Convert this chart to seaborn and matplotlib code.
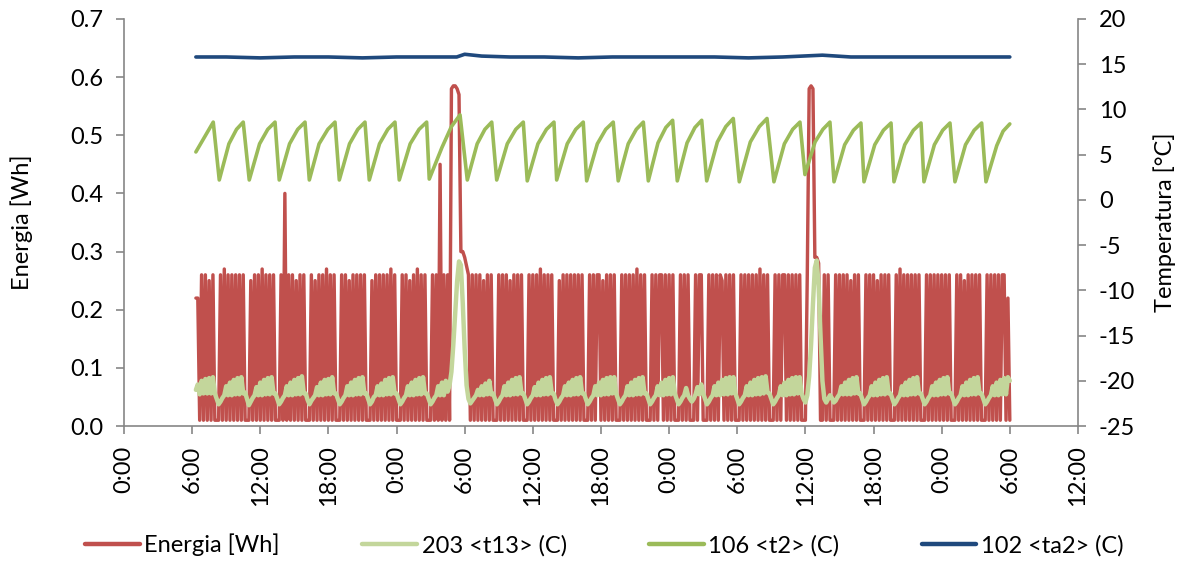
import numpy as np
import pandas as pd
import matplotlib
matplotlib.use("Agg")
import matplotlib.pyplot as plt
import seaborn as sns
from matplotlib.ticker import MultipleLocator, FuncFormatter
from matplotlib.lines import Line2D

sns.set_theme(style="white")
plt.rcParams['font.family'] = ['Lato', 'DejaVu Sans']
plt.rcParams['lines.solid_joinstyle'] = 'round'
plt.rcParams['lines.solid_capstyle'] = 'round'
plt.rcParams['text.color'] = 'black'

# --- datos: energia y t13 muestreados cada 10 min, un bloque por dia ---
PASO_H = 1 / 6
inicio_dias = [6 + 20 / 60, 24, 48, 72]   # hora de la primera muestra de cada bloque

energia_dia1 = [
    0.22, 0.22, 0.01, 0.26, 0.01, 0.26, 0.01, 0.25, 0.01, 0.26, 0.01, 0.01,
    0.01, 0.26, 0.01, 0.27, 0.01, 0.26, 0.01, 0.26, 0.01, 0.26, 0.01, 0.26, 0.01, 0.26, 0.01, 0.01,
    0.01, 0.25, 0.01, 0.26, 0.01, 0.26, 0.01, 0.27, 0.01, 0.26, 0.01, 0.26, 0.01, 0.26, 0.01, 0.01,
    0.01, 0.26, 0.01, 0.40, 0.01, 0.26, 0.01, 0.26, 0.01, 0.25, 0.01, 0.26, 0.01, 0.26, 0.01, 0.01,
    0.01, 0.26, 0.01, 0.25, 0.01, 0.26, 0.01, 0.26, 0.01, 0.27, 0.01, 0.26, 0.01, 0.26, 0.01, 0.01,
    0.01, 0.26, 0.01, 0.26, 0.01, 0.25, 0.01, 0.26, 0.01, 0.26, 0.01, 0.26, 0.01, 0.26, 0.01, 0.01,
    0.01, 0.25, 0.01, 0.26, 0.01, 0.26, 0.01, 0.26, 0.01, 0.26, 0.01, 0.27, 0.01, 0.26,
]
energia_dia2 = [
    0.01, 0.01, 0.01, 0.26, 0.01, 0.26, 0.01, 0.25, 0.01, 0.26, 0.01, 0.27, 0.01, 0.26, 0.01, 0.26, 0.01, 0.01,
    0.01, 0.26, 0.01, 0.26, 0.01, 0.45, 0.01, 0.26, 0.01, 0.26, 0.01, 0.58, 0.585, 0.585, 0.58, 0.57,
    0.30, 0.30, 0.29, 0.275, 0.26, 0.01,
    0.26, 0.01, 0.26, 0.01, 0.26, 0.01, 0.25, 0.01, 0.26, 0.01, 0.26, 0.01, 0.01,
    0.01, 0.26, 0.01, 0.26, 0.01, 0.26, 0.01, 0.25, 0.01, 0.26, 0.01, 0.26, 0.01, 0.26, 0.01, 0.01,
    0.01, 0.26, 0.01, 0.26, 0.01, 0.26, 0.01, 0.27, 0.01, 0.26, 0.01, 0.26, 0.01, 0.26, 0.01, 0.01,
    0.01, 0.25, 0.01, 0.26, 0.01, 0.26, 0.01, 0.26, 0.01, 0.26, 0.01, 0.26, 0.01, 0.26, 0.01, 0.01,
    0.01, 0.26, 0.01, 0.26, 0.01, 0.26, 0.26, 0.01, 0.25, 0.01, 0.26, 0.01, 0.26, 0.01, 0.26, 0.01, 0.01,
    0.01, 0.26, 0.01, 0.26, 0.01, 0.26, 0.01, 0.26, 0.01, 0.27, 0.01, 0.26, 0.01, 0.26, 0.01, 0.01,
    0.01, 0.26, 0.01, 0.26, 0.01, 0.26, 0.26, 0.01, 0.26, 0.01,
]
energia_dia3 = [
    0.26, 0.01, 0.26, 0.01, 0.01,
    0.01, 0.26, 0.01, 0.26, 0.01, 0.26, 0.01, 0.01, 0.01,
    0.26, 0.01, 0.26, 0.26, 0.01, 0.01,
    0.01, 0.26, 0.01, 0.26, 0.01, 0.26, 0.01, 0.26, 0.25, 0.01, 0.26, 0.01, 0.26, 0.01, 0.26, 0.01, 0.01,
    0.01, 0.26, 0.01, 0.26, 0.01, 0.26, 0.01, 0.26, 0.01, 0.26, 0.01, 0.27, 0.01, 0.26, 0.01, 0.26, 0.01, 0.01,
    0.01, 0.26, 0.01, 0.26, 0.01, 0.26, 0.26, 0.01, 0.26, 0.01, 0.26, 0.01, 0.26, 0.01, 0.26, 0.01, 0.01,
    0.01, 0.26, 0.58, 0.585, 0.58, 0.29, 0.29, 0.28, 0.01, 0.01, 0.26, 0.01, 0.26, 0.01, 0.01,
    0.01, 0.26, 0.01, 0.26, 0.01, 0.26, 0.01, 0.26, 0.01, 0.25, 0.01, 0.26, 0.01, 0.26, 0.01, 0.01,
    0.01, 0.26, 0.01, 0.26, 0.01, 0.26, 0.01, 0.25, 0.01, 0.26, 0.01, 0.26, 0.01, 0.26, 0.01, 0.01,
    0.01, 0.26, 0.01, 0.27, 0.01, 0.26, 0.01, 0.26, 0.01, 0.26, 0.01, 0.26, 0.01, 0.26, 0.01, 0.01,
    0.01, 0.26, 0.01, 0.26, 0.01, 0.26, 0.01, 0.26, 0.01,
]
energia_dia4 = [
    0.26, 0.01, 0.26, 0.01, 0.26, 0.01, 0.01,
    0.01, 0.26, 0.01, 0.26, 0.01, 0.25, 0.01, 0.26, 0.01, 0.26, 0.01, 0.26, 0.01, 0.26, 0.01, 0.01,
    0.01, 0.26, 0.01, 0.26, 0.01, 0.26, 0.01, 0.26, 0.01, 0.26, 0.26, 0.01, 0.22, 0.01,
]

t13_dia1 = [
    -21.0, -20.4, -21.5, -20.0, -21.4, -19.8, -21.4, -19.7, -21.4, -19.6,
    -21.4, -22.0, -22.6, -22.3, -21.9, -21.6, -20.6, -21.6, -20.2, -21.6, -19.9, -21.5, -19.7, -21.5, -19.6, -21.4,
    -21.3, -22.0, -22.7, -22.3, -21.9, -21.6, -20.7, -21.6, -20.2, -21.6, -19.9, -21.5, -19.7, -21.5, -19.6, -21.4,
    -21.4, -22.0, -22.6, -22.3, -21.9, -21.6, -20.6, -21.6, -20.2, -21.6, -19.9, -21.5, -19.7, -21.5, -19.5, -21.4,
    -21.4, -22.1, -22.6, -22.2, -21.9, -21.6, -20.7, -21.6, -20.2, -21.6, -19.9, -21.5, -19.8, -21.5, -19.6, -21.4,
    -21.4, -22.0, -22.6, -22.3, -21.9, -21.6, -20.6, -21.6, -20.2, -21.6, -19.9, -21.5, -19.7, -21.5, -19.6, -21.4,
    -21.4, -22.0, -22.6, -22.3, -21.8, -21.6, -20.6, -21.6, -20.3, -21.6, -19.9, -21.5, -19.7, -21.5, -19.6, -21.4,
]
t13_dia2 = [
    -21.4, -22.0, -22.6, -22.3, -21.9, -21.6, -20.6, -21.6, -20.2, -21.6, -19.9, -21.5, -19.7, -21.5, -19.6, -21.4,
    -21.4, -22.0, -22.6, -22.3, -21.9, -21.6, -20.6, -21.6, -20.2, -21.6, -20.0, -21.2, -20.5, -19.0, -16.0,
    -12.5, -9.0, -6.8, -7.2, -11.5, -16.5, -20.5, -22.0, -22.5, -22.2, -21.9, -21.6, -21.0, -21.6, -20.6,
    -21.6, -20.3, -21.5, -20.0, -21.5,
    -21.4, -22.0, -22.6, -22.3, -21.9, -21.6, -20.6, -21.6, -20.2, -21.6, -19.9, -21.5, -19.7, -21.5, -19.6, -21.4,
    -21.4, -22.0, -22.6, -22.3, -21.9, -21.6, -20.7, -21.6, -20.2, -21.6, -19.9, -21.5, -19.7, -21.5, -19.6, -21.4,
    -21.4, -22.1, -22.6, -22.3, -21.9, -21.6, -20.6, -21.6, -20.2, -21.6, -19.9, -21.5, -19.7, -21.5, -19.6, -21.4,
    -21.4, -22.0, -22.6, -22.3, -21.9, -21.6, -20.6, -21.6, -20.2, -21.6, -19.9, -21.5, -19.7, -21.5, -19.6, -21.4, -19.6,
    -21.4, -22.0, -22.6, -22.3, -21.9, -21.6, -20.6, -21.6, -20.2, -21.6, -19.9, -21.5, -19.7, -21.5, -19.6, -21.4,
    -21.4, -22.0, -22.6, -22.3, -21.9, -21.6, -20.6, -21.6, -20.2, -21.6, -19.9, -21.5,
]
t13_dia3 = [
    -19.7, -21.5, -19.6,
    -21.4, -22.0, -22.6, -22.3, -21.9, -21.6, -20.8, -21.6, -22.0, -22.3, -22.0, -21.5, -20.7, -21.5, -20.4,
    -21.4, -22.0, -22.6, -22.3, -21.9, -21.6, -20.6, -21.6, -20.2, -21.6, -19.9, -21.5, -19.7, -21.5, -19.6, -21.4, -19.6,
    -21.4, -22.0, -22.6, -22.3, -21.9, -21.6, -20.6, -21.6, -20.2, -21.6, -19.9, -21.5, -19.7, -21.5, -19.6, -21.4, -19.5, -21.3,
    -21.4, -22.0, -22.6, -22.3, -21.9, -21.6, -20.6, -21.6, -20.2, -21.6, -19.9, -21.5, -19.7, -21.5, -19.6, -21.4, -19.6,
    -21.4, -22.0, -22.4, -21.6, -19.5, -16.0, -11.5, -7.5, -6.7, -9.5, -15.0, -20.0, -22.0, -22.4, -22.0, -21.6,
    -21.9, -22.4, -22.2, -21.8, -21.5, -20.6, -21.5, -20.2, -21.5, -19.9, -21.5, -19.7, -21.4, -19.6, -21.4,
    -21.4, -22.0, -22.6, -22.3, -21.9, -21.6, -20.6, -21.6, -20.2, -21.6, -19.9, -21.5, -19.7, -21.5, -19.6, -21.4,
    -21.4, -22.0, -22.6, -22.3, -21.9, -21.6, -20.6, -21.6, -20.2, -21.6, -19.9, -21.5, -19.7, -21.5, -19.6, -21.4,
    -21.4, -22.0, -22.6, -22.3, -21.9, -21.6, -20.6, -21.6, -20.2, -21.6, -19.9,
]
t13_dia4 = [
    -21.5, -19.7, -21.5, -19.6, -21.4,
    -21.4, -22.0, -22.6, -22.3, -21.9, -21.6, -20.6, -21.6, -20.2, -21.6, -19.9, -21.5, -19.7, -21.5, -19.6, -21.4,
    -21.4, -22.0, -22.6, -22.3, -21.9, -21.6, -20.6, -21.6, -20.2, -21.6, -19.9, -21.5, -19.7, -21.5, -19.6, -20.0,
]

# t2: por ciclo valle, dos puntos de la subida y pico (hora, °C)
t2_horas = [
    6.33, 7.86,
    8.39, 9.24, 9.91, 10.50,
    11.03, 11.94, 12.66, 13.30,
    13.67, 14.58, 15.30, 15.94,
    16.32, 17.18, 17.95, 18.58,
    18.96, 19.86, 20.59, 21.22,
    21.60, 22.50, 23.23, 23.86,
    24.24, 25.20, 25.98, 26.65,
    26.88, 28.00, 28.83, 29.59,
    30.23, 31.10, 31.78, 32.38,
    32.82, 33.75, 34.50, 35.16,
    35.51, 36.45, 37.20, 37.86,
    38.10, 39.03, 39.78, 40.44,
    40.74, 41.68, 42.42, 43.08,
    43.52, 44.40, 45.11, 45.73,
    46.17, 47.02, 47.71, 48.31,
    48.72, 49.58, 50.27, 50.87,
    51.31, 52.25, 52.99, 53.65,
    54.18, 55.15, 55.94, 56.62,
    57.23, 58.15, 58.88, 59.52,
    59.96, 60.85, 61.54, 62.16,
    62.52, 63.46, 64.23, 64.89,
    65.16, 66.11, 66.87, 67.54,
    67.80, 68.75, 69.51, 70.18,
    70.44, 71.36, 72.09, 72.73,
    73.17, 74.10, 74.86, 75.52,
    75.90, 76.85, 77.41, 78.00,
]
t2_valores = [
    5.3, 8.6,
    2.2, 6.2, 7.8, 8.6,
    2.2, 6.2, 7.8, 8.6,
    2.2, 6.2, 7.8, 8.6,
    2.2, 6.2, 7.8, 8.6,
    2.2, 6.2, 7.8, 8.6,
    2.2, 6.2, 7.8, 8.6,
    2.2, 6.2, 7.8, 8.6,
    2.3, 5.8, 8.1, 9.4,
    2.2, 6.2, 7.8, 8.6,
    2.2, 6.2, 7.8, 8.6,
    2.1, 6.2, 7.8, 8.6,
    2.2, 6.2, 7.8, 8.6,
    2.1, 6.2, 7.8, 8.6,
    2.1, 6.2, 7.8, 8.6,
    2.1, 6.3, 8.0, 8.8,
    2.1, 6.3, 8.0, 8.8,
    2.1, 6.4, 8.1, 9.0,
    2.0, 6.4, 8.1, 9.0,
    2.0, 6.2, 7.8, 8.6,
    2.8, 6.4, 7.8, 8.6,
    2.0, 6.1, 7.7, 8.5,
    2.0, 6.1, 7.7, 8.5,
    2.0, 6.1, 7.7, 8.5,
    2.0, 6.1, 7.7, 8.5,
    2.0, 6.1, 7.7, 8.5,
    2.0, 6.0, 7.6, 8.4,
]

# ta2: temperatura ambiente casi constante
ta2_horas = [6.33, 9.0, 12.0, 15.0, 18.0, 21.0, 24.0, 27.0, 29.3, 30.0, 31.5, 34.0, 37.0,
             40.0, 43.0, 46.0, 49.0, 52.0, 55.0, 58.0, 61.5, 64.0, 67.0, 70.0, 74.0, 78.0]
ta2_valores = [15.8, 15.8, 15.7, 15.8, 15.8, 15.7, 15.8, 15.8, 15.8, 16.1, 15.9, 15.8, 15.8,
               15.7, 15.8, 15.8, 15.8, 15.8, 15.7, 15.8, 16.0, 15.8, 15.8, 15.8, 15.8, 15.8]

etiquetas = ['Energia [Wh]', '203 <t13> (C)', '106 <t2> (C)', '102 <ta2> (C)']
ROJO, VERDE_CLARO, VERDE, AZUL = '#C0504D', '#C3D69B', '#9BBB59', '#1F497D'
GRIS = '#868686'
FS = 17


def a_tabla(inicios, bloques, nombre):
    partes = []
    for ini, vals in zip(inicios, bloques):
        t = ini + np.arange(len(vals)) * PASO_H
        partes.append(pd.DataFrame({'hora': t, nombre: vals}))
    return pd.concat(partes, ignore_index=True)


df_e = a_tabla(inicio_dias, [energia_dia1, energia_dia2, energia_dia3, energia_dia4], 'energia')
df_t13 = a_tabla(inicio_dias, [t13_dia1, t13_dia2, t13_dia3, t13_dia4], 't13')
df_t2 = pd.DataFrame({'hora': t2_horas, 't2': t2_valores})
df_ta2 = pd.DataFrame({'hora': ta2_horas, 'ta2': ta2_valores})

fig, ax = plt.subplots(figsize=(11.83, 5.79), dpi=100)
fig.subplots_adjust(left=0.1048, right=0.9112, bottom=0.2642, top=0.9672)
ax2 = ax.twinx()

sns.lineplot(data=df_e, x='hora', y='energia', ax=ax, color=ROJO, linewidth=2.45,
             estimator=None, sort=False, legend=False)
sns.lineplot(data=df_t13, x='hora', y='t13', ax=ax2, color=VERDE_CLARO, linewidth=3.2,
             estimator=None, sort=False, legend=False)
sns.lineplot(data=df_t2, x='hora', y='t2', ax=ax2, color=VERDE, linewidth=2.6,
             estimator=None, sort=False, legend=False)
sns.lineplot(data=df_ta2, x='hora', y='ta2', ax=ax2, color=AZUL, linewidth=2.6,
             estimator=None, sort=False, legend=False)

ax.set_xlim(0, 84)
ax.set_ylim(0, 0.7)
ax2.set_ylim(-25, 20)
ax.xaxis.set_major_locator(MultipleLocator(6))
ax.xaxis.set_major_formatter(FuncFormatter(lambda v, p: f"{int(round(v)) % 24}:00"))
ax.yaxis.set_major_locator(MultipleLocator(0.1))
ax.yaxis.set_major_formatter(FuncFormatter(lambda v, p: f"{v:.1f}"))
ax2.yaxis.set_major_locator(MultipleLocator(5))
ax2.yaxis.set_major_formatter(FuncFormatter(lambda v, p: f"{v:.0f}"))

for a in (ax, ax2):
    a.grid(False)
    for s in a.spines.values():
        s.set_color(GRIS)
        s.set_linewidth(1.2)
    a.spines['top'].set_visible(False)
ax.spines['right'].set_visible(False)
ax2.spines['left'].set_visible(False)
ax2.spines['bottom'].set_visible(False)

ax.tick_params(axis='x', bottom=True, direction='out', length=6, width=1.2, color=GRIS,
               labelsize=FS, labelcolor='black', labelrotation=90, pad=8)
ax.tick_params(axis='y', left=True, direction='out', length=6, width=1.2, color=GRIS,
               labelsize=FS, labelcolor='black', pad=9)
ax2.tick_params(axis='y', right=True, direction='out', length=6, width=1.2, color=GRIS,
                labelsize=FS, labelcolor='black', pad=9)

ax.set_xlabel('')
ax.set_ylabel('Energia [Wh]', fontsize=FS, color='black')
ax.yaxis.set_label_coords(-0.0954, 0.5)
ax2.set_ylabel('Temperatura [°C]', fontsize=FS, color='black')
ax2.yaxis.set_label_coords(1.0786, 0.5)

manijas = [Line2D([0], [0], color=c, linewidth=3.2) for c in (ROJO, VERDE_CLARO, VERDE, AZUL)]
fig.legend(manijas, etiquetas, loc='center', bbox_to_anchor=(0.511, 0.059), ncol=4,
           frameon=False, fontsize=FS, handlelength=2.3, handletextpad=0.2, columnspacing=3.5)

fig.savefig('out.png', dpi=100)
